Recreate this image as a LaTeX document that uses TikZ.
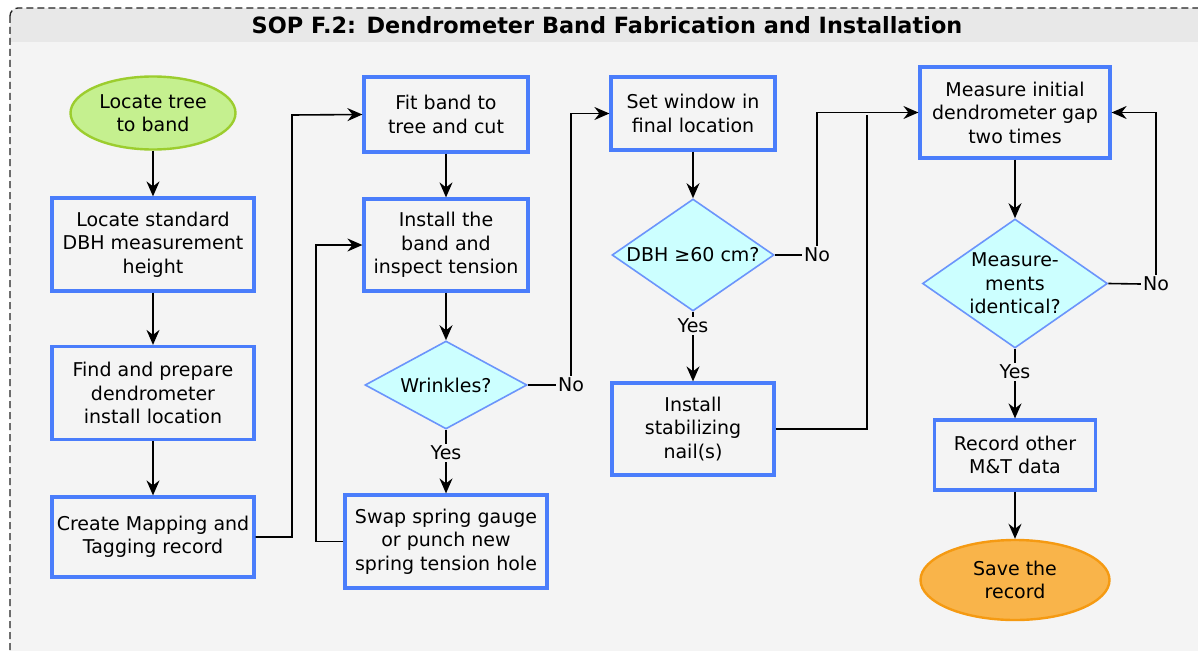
\documentclass[tikz,border=0pt]{standalone}
\usepackage{fontspec}
\setmainfont{DejaVu Sans}
\usetikzlibrary{arrows.meta,shapes.geometric}
\definecolor{bg}{HTML}{F4F4F4}
\definecolor{titlebg}{HTML}{E8E8E8}
\definecolor{boxblue}{HTML}{4A7DFB}
\definecolor{diafill}{HTML}{CCFFFF}
\definecolor{diaborder}{HTML}{6B94FB}
\definecolor{startfill}{HTML}{C5F08F}
\definecolor{startborder}{HTML}{9CCD2E}
\definecolor{endfill}{HTML}{F9B44A}
\definecolor{endborder}{HTML}{F59A12}
\definecolor{framecol}{HTML}{222222}
\tikzset{
  txt/.style={font=\fontsize{19}{23.5}\selectfont, align=center, text=black},
  proc/.style={txt, draw=boxblue, line width=3.2pt, fill=bg, inner sep=0pt},
  dec/.style={txt, diamond, draw=diaborder, line width=1.6pt, fill=diafill, inner sep=0pt},
  startnode/.style={txt, ellipse, draw=startborder, line width=2.4pt, fill=startfill, inner sep=0pt},
  endnode/.style={txt, ellipse, draw=endborder, line width=2.4pt, fill=endfill, inner sep=0pt},
  lbl/.style={txt, fill=bg, inner sep=2pt},
  conn/.style={draw=black, line width=1.6pt},
  arr/.style={conn, -{Stealth[length=15pt,width=13pt,inset=5pt]}},
}
\begin{document}
\begin{tikzpicture}[x=1pt,y=-1pt]
\useasboundingbox (0,0) rectangle (1198,650);
\clip (0,0) rectangle (1198,650);
\fill[white] (0,0) rectangle (1198,650);
% frame and title band
\begin{scope}
\clip[rounded corners=8pt] (10,8) rectangle (1230,690);
\fill[bg] (10,8) rectangle (1230,690);
\fill[titlebg] (10,8) rectangle (1230,42);
\end{scope}
\draw[framecol, line width=1.3pt, dash pattern=on 7pt off 4pt, rounded corners=8pt] (10,8) rectangle (1230,690);
\node[font=\fontsize{22.4}{26}\selectfont\bfseries] (title) at (607,25) {SOP F.2: Dendrometer Band Fabrication and Installation};

% column 1
\node[startnode, minimum width=165pt, minimum height=73pt] (start) at (153,113) {Locate tree\\to band};
\node[proc, minimum width=202pt, minimum height=93pt] (b1) at (153,244.5) {Locate standard\\DBH measurement\\height};
\node[proc, minimum width=202pt, minimum height=93pt] (b2) at (153,393) {Find and prepare\\dendrometer\\install location};
\node[proc, minimum width=202pt, minimum height=80pt] (b3) at (153,537) {Create Mapping and\\Tagging record};

% column 2
\node[proc, minimum width=164pt, minimum height=75pt] (fit) at (446,114.5) {Fit band to\\tree and cut};
\node[proc, minimum width=164pt, minimum height=92pt] (inst) at (446,245) {Install the\\band and\\inspect tension};
\node[dec, shape aspect=1.84, minimum width=162pt, minimum height=88pt] (wr) at (446,385) {Wrinkles?};
\node[proc, minimum width=202pt, minimum height=93pt] (swap) at (446,541.5) {Swap spring gauge\\or punch new\\spring tension hole};

% column 3
\node[proc, minimum width=164pt, minimum height=73pt] (setw) at (693,113.5) {Set window in\\final location};
\node[dec, shape aspect=1.45, minimum width=162pt, minimum height=112pt] (dbh) at (693,255) {DBH ≥60 cm?};
\node[proc, minimum width=162pt, minimum height=92pt] (stab) at (693,429) {Install\\stabilizing\\nail(s)};

% column 4
\node[proc, minimum width=190pt, minimum height=91pt] (meas) at (1015,112.5) {Measure initial\\dendrometer gap\\two times};
\node[dec, shape aspect=1.43, minimum width=185pt, minimum height=129pt] (mid) at (1015,283.5) {Measure-\\ments\\identical?};
\node[proc, minimum width=161pt, minimum height=70pt] (rec) at (1015,455) {Record other\\M\&T data};
\node[endnode, minimum width=189pt, minimum height=80pt] (save) at (1015,580) {Save the\\record};

% labels
\node[lbl] (y1) at (446,453) {Yes};
\node[lbl] (n1) at (571,385) {No};
\node[lbl] (y2) at (693,326) {Yes};
\node[lbl] (n2) at (817,255) {No};
\node[lbl] (y3) at (1015,372) {Yes};
\node[lbl] (n3) at (1156,284) {No};

% helper coordinates
\coordinate (c1) at (292,115);
\coordinate (c2) at (316,245);
\coordinate (c3) at (867,115);

% connectors
\draw[arr] (start) -- (b1);
\draw[arr] (b1) -- (b2);
\draw[arr] (b2) -- (b3);
\draw[arr] (b3.east) -| (c1) -- (fit.west);
\draw[arr] (fit) -- (inst);
\draw[arr] (inst) -- (wr);
\draw[conn] (wr.south) -- (y1.north);
\draw[arr] (y1.south) -- (swap.north);
\draw[arr] (swap.west) -| (c2) -- (inst.west);
\draw[conn] (wr.east) -- (n1.west);
\draw[arr] (n1.north) |- (setw.west);
\draw[arr] (setw) -- (dbh);
\draw[conn] (dbh.south) -- (y2.north);
\draw[arr] (y2.south) -- (stab.north);
\draw[conn] (dbh.east) -- (n2.west);
\draw[arr] (n2.north) |- (meas.west);
\draw[conn] (stab.east) -| (c3);
\draw[arr] (meas) -- (mid);
\draw[conn] (mid.south) -- (y3.north);
\draw[arr] (y3.south) -- (rec.north);
\draw[conn] (mid.east) -- (n3.west);
\draw[arr] (n3.north) |- (meas.east);
\draw[arr] (rec) -- (save);
\end{tikzpicture}
\end{document}
